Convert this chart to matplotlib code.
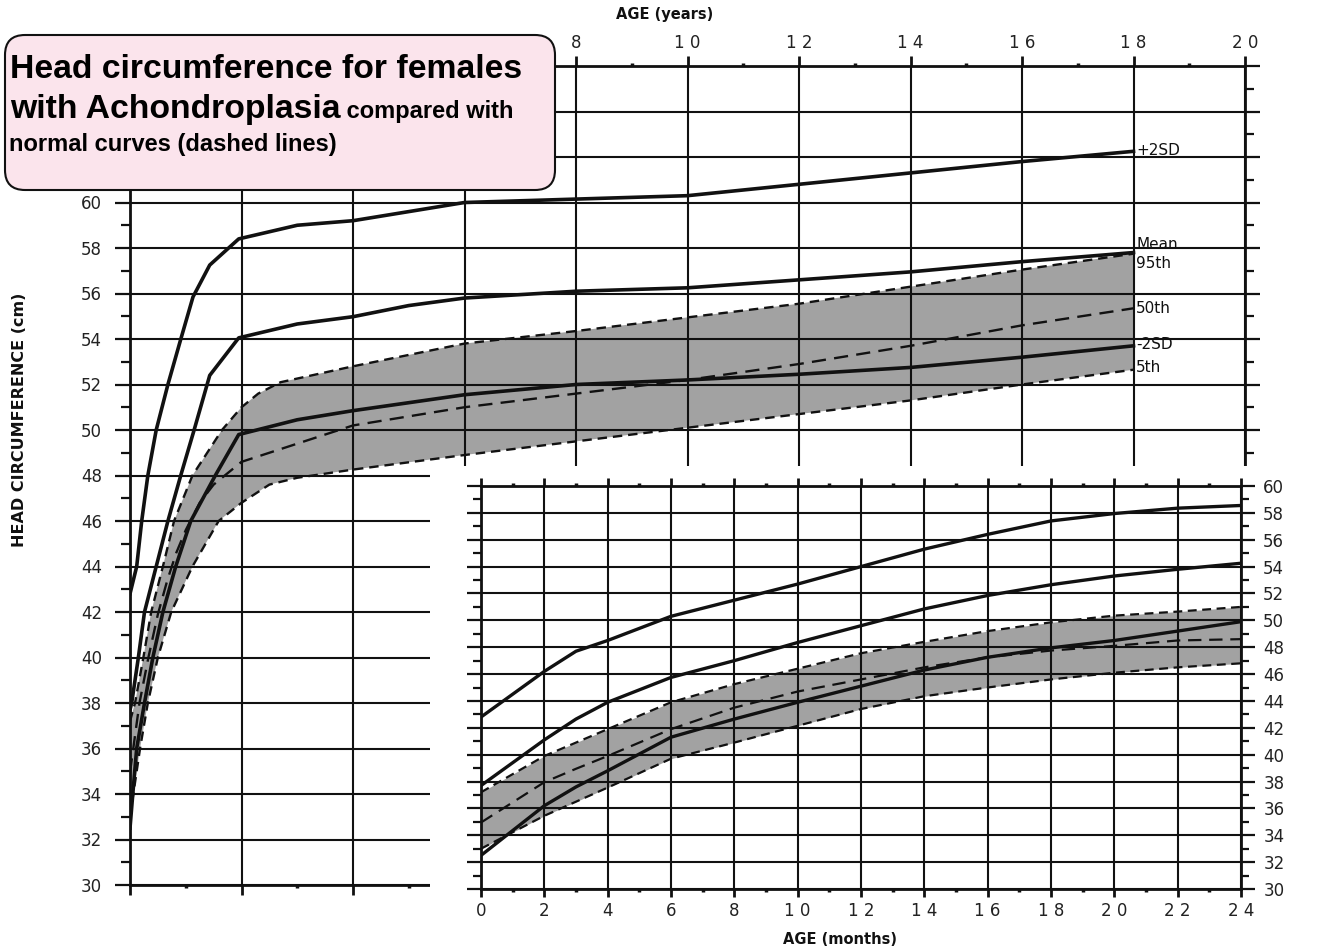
import numpy as np
import matplotlib.pyplot as plt
from matplotlib import font_manager
from matplotlib.patches import FancyBboxPatch, Rectangle
from matplotlib.ticker import MultipleLocator, FuncFormatter

# ---- main chart: age in years ----
# achondroplasia curves (solid)
yr_p2sd = [0, 0.12, 0.21, 0.32, 0.47, 0.68, 0.9, 1.13, 1.43, 1.95, 3, 4, 5, 6, 8, 10, 12, 14, 16, 18]
hc_p2sd = [42.8, 44, 46, 48, 50, 52, 53.9, 55.85, 57.25, 58.4, 59.0, 59.2, 59.6, 60.0, 60.15, 60.3, 60.8, 61.3, 61.8, 62.25]
yr_mean = [0, 0.03, 0.15, 0.26, 0.47, 0.68, 0.91, 1.15, 1.43, 1.95, 3, 4, 5, 6, 8, 10, 12, 14, 16, 18]
hc_mean = [37.7, 38, 40, 42, 44, 46, 48, 50, 52.4, 54.05, 54.66, 54.98, 55.47, 55.8, 56.1, 56.25, 56.6, 56.95, 57.4, 57.8]
yr_m2sd = [0, 0.05, 0.12, 0.26, 0.41, 0.59, 0.82, 1.09, 1.53, 1.95, 3, 4, 6, 8, 10, 12, 14, 16, 18]
hc_m2sd = [32.5, 34, 36, 38, 40, 42, 44, 46, 48, 49.8, 50.45, 50.85, 51.55, 52.0, 52.2, 52.45, 52.75, 53.2, 53.7]
# normal curves (dashed)
yr_p95 = [0, 0.09, 0.24, 0.38, 0.59, 0.79, 1.12, 1.65, 2, 2.3, 2.7, 4, 6, 8, 10, 12, 14, 16, 18]
hc_p95 = [37.2, 38, 40, 42, 44, 46, 48, 50, 51.0, 51.6, 52.1, 52.8, 53.8, 54.35, 54.95, 55.55, 56.3, 57.05, 57.75]
yr_p50 = [0, 0.17, 0.33, 0.5, 0.67, 0.83, 1.0, 1.25, 1.5, 1.75, 2, 3, 4, 6, 8, 10, 12, 14, 16, 18]
hc_p50 = [34.95, 38.0, 40.0, 41.9, 43.4, 44.6, 45.6, 46.8, 47.6, 48.1, 48.6, 49.4, 50.2, 51.0, 51.6, 52.2, 52.9, 53.7, 54.6, 55.35]
yr_p5 = [0, 0.18, 0.32, 0.5, 0.74, 1.12, 1.59, 2.0, 2.5, 3, 4, 6, 8, 10, 12, 14, 16, 18]
hc_p5 = [33.0, 36, 38, 40, 42, 44, 46, 46.8, 47.6, 47.9, 48.26, 48.9, 49.5, 50.1, 50.7, 51.3, 52.0, 52.65]

curve_names = ['+2SD', 'Mean', '95th', '50th', '-2SD', '5th']
name_pos = [62.3, 58.15, 57.3, 55.36, 53.78, 52.73]

# ---- inset: first two years, age in months ----
months = [0, 2, 3, 4, 6, 8, 10, 12, 14, 16, 18, 20, 22, 24]
mo_p2sd = [42.8, 46.2, 47.7, 48.5, 50.3, 51.5, 52.7, 54.0, 55.3, 56.4, 57.4, 57.95, 58.35, 58.55]
mo_mean = [37.7, 41.1, 42.65, 43.9, 45.75, 47.0, 48.35, 49.6, 50.85, 51.85, 52.65, 53.3, 53.8, 54.25]
mo_m2sd = [32.5, 36.2, 37.6, 38.8, 41.3, 42.65, 43.9, 45.1, 46.3, 47.25, 47.95, 48.5, 49.2, 49.9]
mo_p95 = [37.2, 39.9, 40.9, 41.9, 43.9, 45.25, 46.4, 47.55, 48.4, 49.2, 49.85, 50.35, 50.65, 51.0]
mo_p50 = [34.95, 37.95, 38.95, 39.9, 41.9, 43.5, 44.7, 45.6, 46.5, 47.25, 47.75, 48.1, 48.5, 48.6]
mo_p5 = [33.0, 35.45, 36.5, 37.55, 39.7, 40.9, 42.15, 43.4, 44.35, 45.0, 45.6, 46.1, 46.5, 46.8]

ink = '#111111'
shade = '#a2a2a2'
num_font = 'DejaVu Sans'

avail = {f.name for f in font_manager.fontManager.ttflist}
if 'Liberation Sans Narrow' in avail:
    title_font, big, small = 'Liberation Sans Narrow', 27, 18
else:
    title_font, big, small = 'Liberation Sans', 24.3, 17

W, H = 1318, 952
fig = plt.figure(figsize=(W / 100, H / 100), dpi=100)


def spaced(v):
    return ' '.join(str(int(v)))


def style_axes(a):
    for s in a.spines.values():
        s.set_linewidth(2.0)
        s.set_color(ink)
    a.grid(True, which='major', color=ink, linewidth=1.5)
    a.set_axisbelow(False)


# main chart
ax = fig.add_axes([130 / W, 1 - 885 / H, (1245 - 130) / W, (885 - 66) / H])
ax.set_xlim(0, 20)
ax.set_ylim(30, 66)
style_axes(ax)
ax.fill(np.r_[yr_p95, yr_p5[::-1]], np.r_[hc_p95, hc_p5[::-1]], color=shade, lw=0, zorder=1)
ax.plot(yr_p2sd, hc_p2sd, color=ink, lw=2.6, zorder=3)
ax.plot(yr_mean, hc_mean, color=ink, lw=2.6, zorder=3)
ax.plot(yr_m2sd, hc_m2sd, color=ink, lw=2.6, zorder=3)
ax.plot(yr_p95, hc_p95, color=ink, lw=1.7, ls=(0, (4, 2.5)), zorder=3)
ax.plot(yr_p50, hc_p50, color=ink, lw=1.7, ls=(0, (6, 3.5)), zorder=3)
ax.plot(yr_p5, hc_p5, color=ink, lw=1.7, ls=(0, (4, 2.5)), zorder=3)
for name, pos in zip(curve_names, name_pos):
    ax.text(18.05, pos, name, va='center', ha='left', fontsize=11, color=ink, family=num_font)

ax.xaxis.set_major_locator(MultipleLocator(2))
ax.xaxis.set_minor_locator(MultipleLocator(1))
ax.yaxis.set_major_locator(MultipleLocator(2))
ax.yaxis.set_minor_locator(MultipleLocator(1))
ax.xaxis.set_major_formatter(FuncFormatter(lambda v, p: spaced(v) if v > 0 else ''))
ax.yaxis.set_major_formatter(FuncFormatter(lambda v, p: '%d' % v if v <= 60 else ''))
ax.tick_params(axis='x', which='both', top=True, bottom=True, labeltop=True, labelbottom=False,
               direction='out', color=ink)
ax.tick_params(axis='x', which='major', length=7, width=2, pad=3, labelsize=12, labelcolor='#222222')
ax.tick_params(axis='x', which='minor', length=2.5, width=2.5)
ax.tick_params(axis='y', which='both', left=True, right=True, labelleft=True, labelright=False,
               direction='out', color=ink)
ax.tick_params(axis='y', which='major', length=11, width=1.6, pad=9, labelsize=12, labelcolor='#222222')
ax.tick_params(axis='y', which='minor', length=6.5, width=1.6)

# white area behind the inset
fig.add_artist(Rectangle((430 / W, 0), 1 - 430 / W, 1 - 466 / H, transform=fig.transFigure,
                         facecolor='white', edgecolor='none', zorder=1))

# inset: first two years in months
ax2 = fig.add_axes([481 / W, 1 - 889 / H, (1241 - 481) / W, (889 - 486) / H])
ax2.set_zorder(2)
ax2.set_xlim(0, 24)
ax2.set_ylim(30, 60)
style_axes(ax2)
ax2.fill_between(months, mo_p5, mo_p95, color=shade, lw=0, zorder=1)
ax2.plot(months, mo_p2sd, color=ink, lw=2.4, zorder=3)
ax2.plot(months, mo_mean, color=ink, lw=2.4, zorder=3)
ax2.plot(months, mo_m2sd, color=ink, lw=2.4, zorder=3)
ax2.plot(months, mo_p95, color=ink, lw=1.6, ls=(0, (4, 2.5)), zorder=3)
ax2.plot(months, mo_p50, color=ink, lw=1.6, ls=(0, (6, 3.5)), zorder=3)
ax2.plot(months, mo_p5, color=ink, lw=1.6, ls=(0, (4, 2.5)), zorder=3)

ax2.xaxis.set_major_locator(MultipleLocator(2))
ax2.xaxis.set_minor_locator(MultipleLocator(1))
ax2.yaxis.set_major_locator(MultipleLocator(2))
ax2.yaxis.set_minor_locator(MultipleLocator(1))
ax2.xaxis.set_major_formatter(FuncFormatter(lambda v, p: spaced(v)))
ax2.yaxis.set_major_formatter(FuncFormatter(lambda v, p: '%d' % v))
ax2.tick_params(axis='x', which='both', top=True, bottom=True, labeltop=False, labelbottom=True,
                direction='out', color=ink)
ax2.tick_params(axis='x', which='major', length=6, width=2, pad=3, labelsize=12, labelcolor='#222222')
ax2.tick_params(axis='x', which='minor', length=2.5, width=2.5)
ax2.tick_params(axis='y', which='both', left=True, right=True, labelleft=False, labelright=True,
                direction='out', color=ink)
ax2.tick_params(axis='y', which='major', length=10, width=1.6, pad=6, labelsize=12, labelcolor='#222222')
ax2.tick_params(axis='y', which='minor', length=6, width=1.6)

# axis titles
fig.text(20 / W, 1 - 420 / H, 'HEAD CIRCUMFERENCE (cm)', rotation=90, ha='center', va='center',
         fontsize=11.5, fontweight='bold', family='DejaVu Sans', color=ink)
fig.text(665 / W, 1 - 15 / H, 'AGE (years)', ha='center', va='center',
         fontsize=10.5, fontweight='bold', family='DejaVu Sans', color=ink)
fig.text(840 / W, 1 - 940 / H, 'AGE (months)', ha='center', va='center',
         fontsize=10.5, fontweight='bold', family='DejaVu Sans', color=ink, zorder=5)

# title box
box = FancyBboxPatch((0.05, (H - 190) / 100), 5.5, 1.55, boxstyle='round,pad=0,rounding_size=0.2',
                     transform=fig.dpi_scale_trans, facecolor='#fbe4ec', edgecolor=ink, lw=1.5, zorder=3)
fig.add_artist(box)
fig.text(10 / W, 1 - 78 / H, 'Head circumference for females', ha='left', va='baseline',
         fontsize=big, fontweight='bold', family=title_font, zorder=4)
line2 = fig.text(10 / W, 1 - 118 / H, 'with Achondroplasia', ha='left', va='baseline',
                 fontsize=big, fontweight='bold', family=title_font, zorder=4)
fig.canvas.draw()
x_end = line2.get_window_extent().x1 / fig.bbox.width
fig.text(x_end, 1 - 118 / H, ' compared with', ha='left', va='baseline',
         fontsize=small, fontweight='bold', family=title_font, zorder=4)
fig.text(9 / W, 1 - 151 / H, 'normal curves (dashed lines)', ha='left', va='baseline',
         fontsize=small, fontweight='bold', family=title_font, zorder=4)

fig.savefig('out.png', dpi=100)
